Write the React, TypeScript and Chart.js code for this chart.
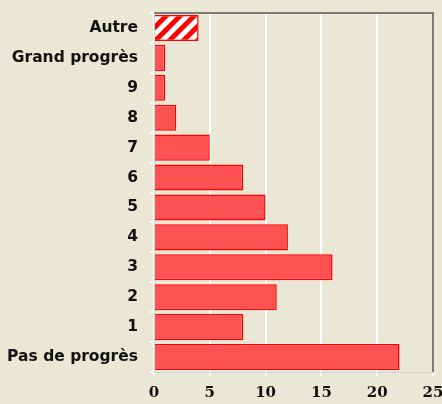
import React, { useEffect, useRef } from "react";
import { Chart, registerables } from "chart.js";

Chart.register(...registerables);

const categories = ["Autre", "Grand progrès", "9", "8", "7", "6", "5", "4", "3", "2", "1", "Pas de progrès"];
const values = [4, 1, 1, 2, 5, 8, 10, 12, 16, 11, 8, 22];
const xTicks = [0, 5, 10, 15, 20, 25];

function makeHatch(): CanvasPattern | string {
  const c = document.createElement("canvas");
  const s = 14;
  c.width = s;
  c.height = s;
  const g = c.getContext("2d");
  if (!g) return "#ff5050";
  g.fillStyle = "#ffffff";
  g.fillRect(0, 0, s, s);
  g.strokeStyle = "#ff0000";
  g.lineWidth = 5;
  g.lineCap = "square";
  for (const o of [-s, 0, s]) {
    g.beginPath();
    g.moveTo(o, s);
    g.lineTo(o + s, 0);
    g.stroke();
  }
  const p = g.createPattern(c, "repeat");
  return p || "#ff5050";
}

const frame = {
  id: "frame",
  afterDraw(chart: any) {
    const { ctx, chartArea } = chart;
    ctx.save();
    ctx.strokeStyle = "#7a7a7a";
    ctx.lineWidth = 2;
    ctx.beginPath();
    ctx.moveTo(chartArea.left, chartArea.top);
    ctx.lineTo(chartArea.right, chartArea.top);
    ctx.lineTo(chartArea.right, chartArea.bottom);
    ctx.stroke();
    ctx.restore();
  },
};

const bg = {
  id: "bg",
  beforeDraw(chart: any) {
    const { ctx, width, height } = chart;
    ctx.save();
    ctx.fillStyle = "#ebe7d5";
    ctx.fillRect(0, 0, width, height);
    ctx.restore();
  },
};

export default function App() {
  const ref = useRef<HTMLCanvasElement>(null);
  useEffect(() => {
    document.body.style.margin = "0";
    const hatch = makeHatch();
    const fills = values.map((_, i) => (i === 0 ? hatch : "#ff5252"));
    const chart = new Chart(ref.current as HTMLCanvasElement, {
      type: "bar",
      data: {
        labels: categories,
        datasets: [
          {
            data: values,
            backgroundColor: fills as any,
            borderColor: "#ff0000",
            borderWidth: 1.5,
            categoryPercentage: 1,
            barPercentage: 0.87,
          },
        ],
      },
      options: {
        indexAxis: "y",
        animation: false,
        responsive: false,
        maintainAspectRatio: false,
        layout: { padding: { top: 13, right: 9, left: 0, bottom: 0 } },
        plugins: { legend: { display: false }, tooltip: { enabled: false } },
        scales: {
          x: {
            min: 0,
            max: 25,
            afterBuildTicks: (s: any) => {
              s.ticks = xTicks.map((v) => ({ value: v }));
            },
            afterFit: (s: any) => {
              s.height = 32;
              s.paddingRight = 0;
              s.paddingLeft = 0;
            },
            grid: { color: "#ffffff", lineWidth: 2, tickLength: 4, tickColor: "#ffffff" },
            border: { color: "#d4d4d4", width: 1 },
            ticks: {
              color: "#111",
              padding: 8,
              maxRotation: 0,
              font: { family: "'DejaVu Serif'", weight: "bold", size: 15 },
            },
          },
          y: {
            afterFit: (s: any) => {
              s.width = 154;
              s.paddingTop = 0;
              s.paddingBottom = 0;
            },
            grid: { drawOnChartArea: false, tickLength: 4, tickColor: "#ffffff", lineWidth: 2 },
            border: { color: "#d4d4d4", width: 1 },
            ticks: {
              color: "#111",
              padding: 12,
              font: { family: "'DejaVu Sans'", weight: "bold", size: 15.5 },
            },
          },
        },
      },
      plugins: [bg, frame],
    });
    return () => chart.destroy();
  }, []);
  return (
    <div style={{ width: 442, height: 404 }}>
      <canvas ref={ref} width={442} height={404} style={{ display: "block" }} />
    </div>
  );
}
